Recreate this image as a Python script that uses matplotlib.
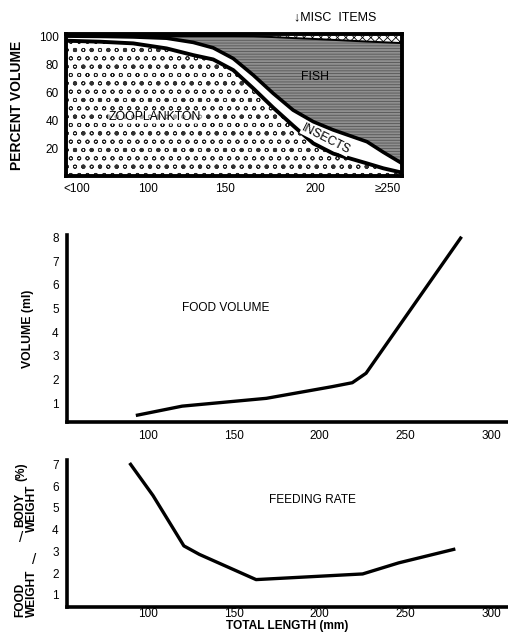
import matplotlib
matplotlib.use("Agg")
import matplotlib.pyplot as plt
import numpy as np

plt.rcParams['font.family'] = ['Liberation Sans', 'DejaVu Sans']
plt.rcParams['hatch.linewidth'] = 0.6

# ---- Top panel: diet composition (percent volume, cumulative) ----
size_labels = ['<100', '100', '150', '200', '\u2265250']
size_pos = [0, 0.913, 1.904, 3.062, 4.0]
comp_x = [-0.14, 0.296, 0.724, 1.153, 1.496, 1.753, 2.01, 2.268, 2.525,
          2.78, 3.04, 3.297, 3.73, 3.94, 4.18]
zooplankton_top = [96.7, 96, 94.8, 91.2, 86.4, 83.3, 75.7, 62.6, 48.8,
                   36, 23.3, 16, 9.0, 5.5, 2.4]
insects_top = [100, 99.8, 99.4, 98.5, 95.5, 91.6, 84, 72.1, 59,
               47.1, 38.8, 32.9, 24.5, 17, 9.0]
fish_top = [100, 100, 100, 100, 100, 100, 100, 99.9, 99.3,
            98.6, 98, 97.3, 96.1, 95.6, 95.0]
misc_top = [100] * 15

# ---- Middle panel: food volume ----
vol_len = [94, 120, 169, 207, 219, 227, 282]
vol_ml = [0.49, 0.87, 1.2, 1.69, 1.86, 2.26, 7.97]

# ---- Bottom panel: feeding rate ----
rate_len = [90, 103, 121, 130, 163, 225, 246, 278]
rate_pct = [7.0, 5.57, 3.25, 2.86, 1.70, 1.96, 2.47, 3.09]

len_ticks = [100, 150, 200, 250, 300]

W, H = 508, 637
fig = plt.figure(figsize=(W / 100, H / 100), dpi=100)

def ax_rect(l, t, r, b):
    return [l / W, 1 - b / H, (r - l) / W, (b - t) / H]

TICK = 8.5

# Top
ax1 = fig.add_axes(ax_rect(66, 34, 402, 176))
ax1.fill_between(comp_x, 0, zooplankton_top, facecolor='white', edgecolor='#222222',
                 hatch='oo', linewidth=0)
ax1.fill_between(comp_x, 0, zooplankton_top, facecolor='none', edgecolor='#333333',
                 hatch='.', linewidth=0)
ax1.fill_between(comp_x, zooplankton_top, insects_top, facecolor='white', linewidth=0)
ax1.fill_between(comp_x, insects_top, fish_top, facecolor='#8f8f8f', edgecolor='#555555',
                 hatch='------', linewidth=0)
ax1.fill_between(comp_x, fish_top, misc_top, facecolor='white', edgecolor='black',
                 hatch='xxxx', linewidth=0)
ax1.plot(comp_x, zooplankton_top, color='black', lw=2.8, solid_joinstyle='round')
ax1.plot(comp_x, insects_top, color='black', lw=2.6, solid_joinstyle='round')
ax1.plot(comp_x, fish_top, color='black', lw=1.4)
ax1.set_xlim(-0.14, 4.18)
ax1.set_ylim(0, 101.5)
ax1.set_xticks(size_pos)
ax1.set_xticklabels(size_labels)
ax1.set_yticks([20, 40, 60, 80, 100])
ax1.tick_params(length=0, labelsize=TICK, pad=5)
for s in ax1.spines.values():
    s.set_linewidth(2.8)
ax1.set_ylabel('PERCENT VOLUME', fontsize=10, fontweight='bold', labelpad=11)
ax1.text(3.06, 70.7, 'FISH', ha='center', va='center', fontsize=8.8)
ax1.text(1.0, 42, 'ZOOPLANKTON', ha='center', va='center', fontsize=8.8,
         bbox=dict(facecolor='white', edgecolor='none', pad=0.5, alpha=0.6))
ax1.text(3.2, 26, 'INSECTS', ha='center', va='center', fontsize=8.8, rotation=-27,
         bbox=dict(facecolor='white', edgecolor='none', pad=0.1))
fig.text(335 / W, 1 - 17 / H, '\u2193MISC  ITEMS', ha='center', va='center', fontsize=9)

# Middle
ax2 = fig.add_axes(ax_rect(67, 235, 507, 422))
ax2.plot(vol_len, vol_ml, color='black', lw=2.4, solid_joinstyle='round')
ax2.set_xlim(53, 309)
ax2.set_ylim(0.2, 8.1)
ax2.set_xticks(len_ticks)
ax2.set_yticks([1, 2, 3, 4, 5, 6, 7, 8])
ax2.tick_params(length=0, labelsize=TICK, pad=6)
for k in ['top', 'right']:
    ax2.spines[k].set_visible(False)
for k in ['left', 'bottom']:
    ax2.spines[k].set_linewidth(2.6)
ax2.set_ylabel('VOLUME (ml)', fontsize=8.8, fontweight='bold', labelpad=13)
ax2.text(226 / W, 1 - 308 / H, 'FOOD VOLUME', transform=fig.transFigure,
         ha='center', va='center', fontsize=8.6)

# Bottom
ax3 = fig.add_axes(ax_rect(67, 460, 507, 607))
ax3.plot(rate_len, rate_pct, color='black', lw=2.4, solid_joinstyle='round')
ax3.set_xlim(53, 309)
ax3.set_ylim(0.44, 7.2)
ax3.set_xticks(len_ticks)
ax3.set_yticks([1, 2, 3, 4, 5, 6, 7])
ax3.tick_params(length=0, labelsize=TICK, pad=6)
ax3.tick_params(axis='x', pad=1)
for k in ['top', 'right']:
    ax3.spines[k].set_visible(False)
for k in ['left', 'bottom']:
    ax3.spines[k].set_linewidth(2.6)
ax3.set_xlabel('TOTAL LENGTH (mm)', fontsize=8.6, fontweight='bold', labelpad=0)
ax3.text(312 / W, 1 - 500 / H, 'FEEDING RATE', transform=fig.transFigure,
         ha='center', va='center', fontsize=8.6)

lab = dict(rotation=90, ha='center', va='center', fontsize=8.6, fontweight='bold')
fig.text(20 / W, 1 - 600 / H, 'FOOD', **lab)
fig.text(32 / W, 1 - 593 / H, 'WEIGHT', **lab)
fig.text(20 / W, 1 - 510 / H, 'BODY', **lab)
fig.text(32 / W, 1 - 508 / H, 'WEIGHT', **lab)
fig.text(21 / W, 1 - 472 / H, '(%)', **lab)
fig.text(21 / W, 1 - 538 / H, '/', ha='center', va='center', fontsize=11)
fig.text(34 / W, 1 - 560 / H, '/', ha='center', va='center', fontsize=11)

fig.savefig('out.png', dpi=100)
